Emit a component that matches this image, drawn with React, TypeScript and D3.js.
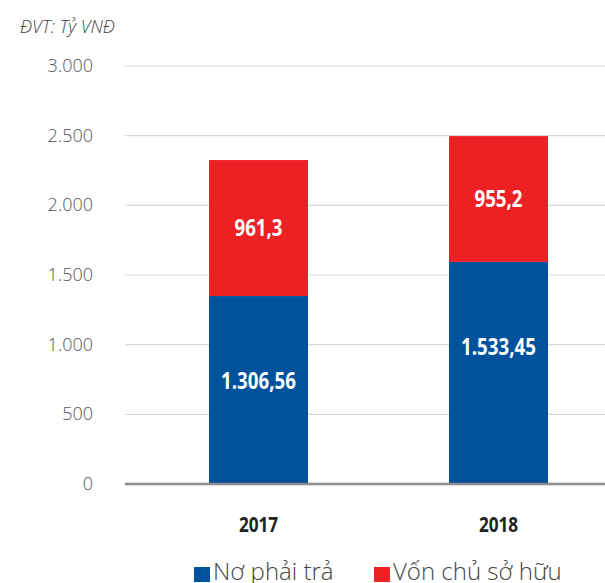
import React from "react";
import * as d3 from "d3";

const years = ["2017", "2018"];
const debtValues = [1349, 1594];
const equityValues = [976, 903];
const debtLabels = ["1.306,56", "1.533,45"];
const equityLabels = ["961,3", "955,2"];
const yTicks = [0, 500, 1000, 1500, 2000, 2500, 3000];
const legendNames = ["Nơ phải trả", "Vốn chủ sở hữu"];
const unitLabel = "ĐVT: Tỷ VNĐ";

const BLUE = "#00529c";
const RED = "#ed2024";

function Condensed(props: { x: number; y: number; text: string; size: number; fill: string; squeeze: number }) {
  const { x, y, text, size, fill, squeeze } = props;
  return (
    <text
      transform={`translate(${x},${y}) scale(${squeeze},1)`}
      textAnchor="middle"
      fontFamily="'Open Sans', 'Noto Sans', sans-serif"
      fontWeight={700}
      fontSize={size}
      fill={fill}
    >
      {text}
    </text>
  );
}

export default function App() {
  const W = 605, H = 583;
  const y = d3.scaleLinear().domain([0, 3000]).range([484, 66]);
  const x = d3.scalePoint<string>().domain(years).range([258.5, 498.5]);
  const bw = 99;
  const fmt = (v: number) => d3.format(",")(v).replace(/,/g, ".");
  const light = "'Open Sans', 'Noto Sans', sans-serif";

  return (
    <svg width={W} height={H} style={{ position: "absolute", left: 0, top: 0, background: "#fff" }}>
      <text x={20} y={33} fontFamily={light} fontStyle="italic" fontWeight={300} fontSize={18} fill="#444">
        {unitLabel}
      </text>
      {yTicks.map((t) => (
        <g key={t}>
          {t !== 0 && (
            <line x1={125} x2={W} y1={y(t)} y2={y(t)} stroke="#d9d9d9" strokeWidth={1.2} />
          )}
          <text x={93} y={y(t) + 6} textAnchor="end" fontFamily={light} fontWeight={300} fontSize={18} fill="#555">
            {fmt(t)}
          </text>
        </g>
      ))}
      {years.map((yr, i) => {
        const cx = x(yr)!;
        const d0 = y(0), d1 = y(debtValues[i]);
        const e1 = y(debtValues[i] + equityValues[i]);
        return (
          <g key={yr}>
            <rect x={cx - bw / 2} y={d1} width={bw} height={d0 - d1} fill={BLUE} />
            <rect x={cx - bw / 2} y={e1} width={bw} height={d1 - e1} fill={RED} />
            <Condensed x={cx} y={(e1 + d1) / 2 + 8} text={equityLabels[i]} size={24} fill="#fff" squeeze={0.78} />
            <Condensed x={cx} y={d1 + 85 + 8} text={debtLabels[i]} size={24} fill="#fff" squeeze={0.78} />
            <Condensed x={cx} y={532} text={yr} size={22} fill="#222" squeeze={0.78} />
          </g>
        );
      })}
      <line x1={125} x2={W} y1={y(0)} y2={y(0)} stroke="#8c8c8c" strokeWidth={2.5} />
      <rect x={194} y={567} width={16} height={15} fill={BLUE} />
      <text x={213} y={580} fontFamily={light} fontWeight={300} fontSize={24} fill="#444">
        {legendNames[0]}
      </text>
      <rect x={374} y={567} width={16} height={15} fill={RED} />
      <text x={393} y={580} fontFamily={light} fontWeight={300} fontSize={24} fill="#444">
        {legendNames[1]}
      </text>
    </svg>
  );
}
